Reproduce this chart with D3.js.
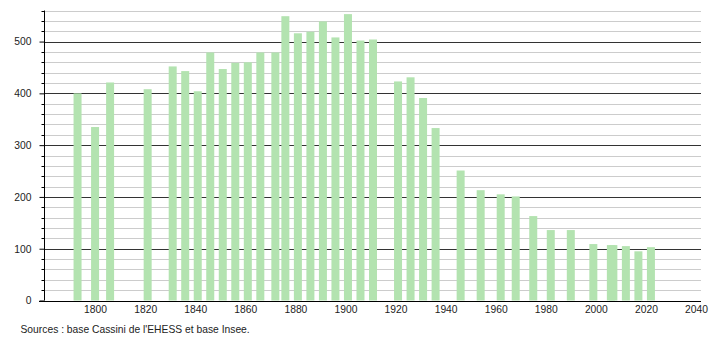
<!DOCTYPE html>
<html><head><meta charset="utf-8">
<script src="https://cdn.jsdelivr.net/npm/d3@7"></script>
<style>body{margin:0;background:#fff}svg{display:block;font-family:"Liberation Sans",Arial,sans-serif}</style>
</head><body><svg id="c" width="710" height="340"></svg>
<script>
const years = [1793,1800,1806,1821,1831,1836,1841,1846,1851,1856,1861,1866,1872,1876,1881,1886,1891,1896,1901,1906,1911,1921,1926,1931,1936,1946,1954,1962,1968,1975,1982,1990,1999,2006,2007,2012,2017,2022];
const population = [400,335,421,408,452,443,404,479,447,459,460,479,479,549,516,519,539,508,553,502,504,423,431,391,333,251,213,205,201,163,136,136,109,107,107,105,95,103];
const xTicks = [1800,1820,1840,1860,1880,1900,1920,1940,1960,1980,2000,2020,2040];
const yTicks = [0,100,200,300,400,500];
const source = "Sources : base Cassini de l'EHESS et base Insee.";

const FS = 10.3;
const svg = d3.select("#c");
const x = d3.scaleLinear().domain([1780, 2042]).range([45, 701]);
const y = d3.scaleLinear().domain([0, 560]).range([300.5, 10.5]);
const minor = d3.range(0, 561, 20);

// grid
svg.append("g").selectAll("line").data(minor.filter(v => v % 100 !== 0 && v > 0)).join("line")
  .attr("x1", 45).attr("x2", 701).attr("y1", d => Math.round(y(d)) + 0.5).attr("y2", d => Math.round(y(d)) + 0.5)
  .attr("stroke", "#cccccc").attr("stroke-width", 1);
svg.append("g").selectAll("line").data(yTicks.filter(v => v > 0)).join("line")
  .attr("x1", 45).attr("x2", 701).attr("y1", d => Math.round(y(d)) + 0.5).attr("y2", d => Math.round(y(d)) + 0.5)
  .attr("stroke", "#333333").attr("stroke-width", 1);

// bars
svg.append("g").selectAll("rect").data(years).join("rect")
  .attr("x", (d) => x(d) - 4).attr("width", 8)
  .attr("y", (d, i) => y(population[i])).attr("height", (d, i) => y(0) - y(population[i]))
  .attr("fill", "#b3e3b0");

// y axis
const ya = svg.append("g").attr("transform", "translate(44.5,0)")
  .call(d3.axisLeft(y).tickValues(yTicks).tickSize(5).tickPadding(8).tickFormat(d3.format("d")));
ya.select(".domain").remove();
ya.append("line").attr("y1", y(0)).attr("y2", y(560)).attr("stroke", "#000");
ya.selectAll(".tick line").attr("stroke", "#000");
ya.selectAll("text").attr("font-size", FS).attr("fill", "#222").attr("font-family", "Liberation Sans, Arial, sans-serif");
ya.append("g").selectAll("line").data(minor.filter(v => v % 100 !== 0)).join("line")
  .attr("x1", -3).attr("x2", 0).attr("y1", d => Math.round(y(d)) + 0.5).attr("y2", d => Math.round(y(d)) + 0.5)
  .attr("stroke", "#000");

// x axis
const xa = svg.append("g").attr("transform", `translate(0,${Math.round(y(0)) + 0.5})`)
  .call(d3.axisBottom(x).tickValues(xTicks).tickSize(0).tickPadding(4).tickFormat(d3.format("d")));
xa.select(".domain").remove();
xa.append("line").attr("x1", 39).attr("x2", 701).attr("stroke", "#000");
xa.selectAll("text").attr("font-size", FS).attr("fill", "#222").attr("font-family", "Liberation Sans, Arial, sans-serif");

svg.append("text").attr("x", 20.5).attr("y", 332.5).attr("font-size", FS).attr("fill", "#222").text(source);
</script></body></html>
